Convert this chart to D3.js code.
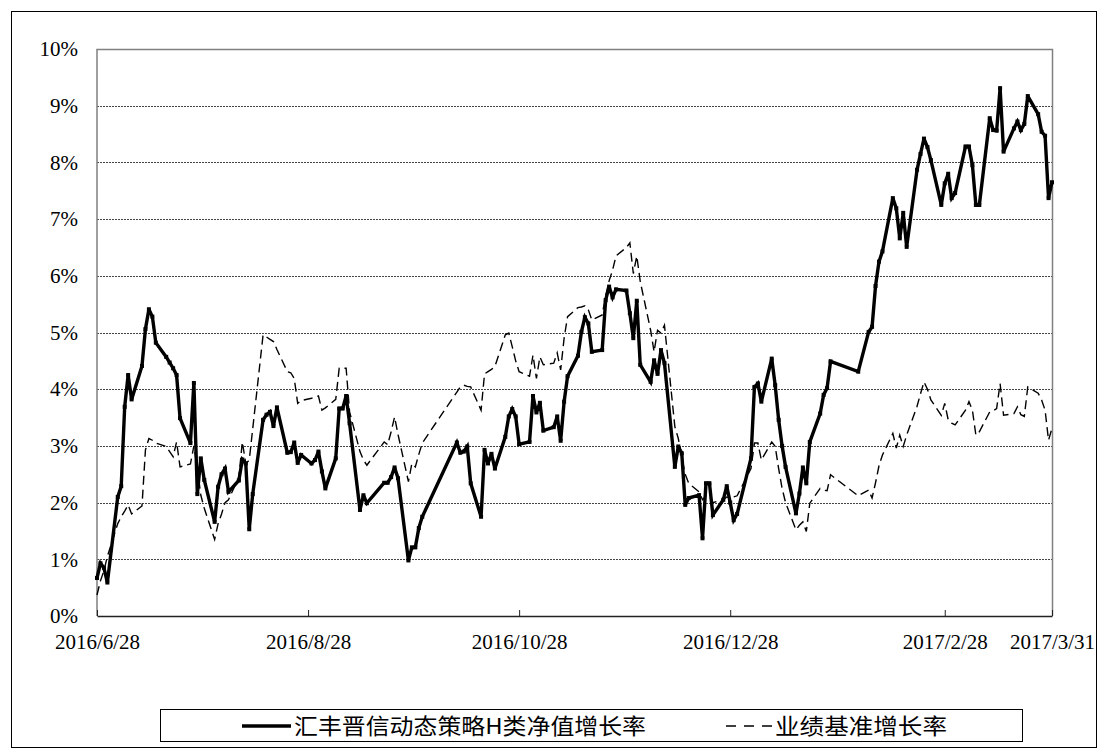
<!DOCTYPE html>
<html>
<head>
<meta charset="utf-8">
<script src="https://cdn.jsdelivr.net/npm/d3@7"></script>
<style>
  body { margin: 0; background: #fff; }
  .tick text { font-family: "Liberation Serif", "Times New Roman", serif; font-size: 21px; fill: #000; }
  .legend text { font-family: "Noto Sans CJK SC", sans-serif; font-size: 22px; fill: #000; }
</style>
</head>
<body>
<div id="chart"></div>
<script>
// trading days shown on the chart
var dates = [
  "2016-06-28","2016-06-29","2016-06-30",
  "2016-07-01","2016-07-04","2016-07-05","2016-07-06","2016-07-07","2016-07-08","2016-07-11","2016-07-12","2016-07-13","2016-07-14","2016-07-15","2016-07-18","2016-07-19","2016-07-20","2016-07-21","2016-07-22","2016-07-25","2016-07-26","2016-07-27","2016-07-28","2016-07-29",
  "2016-08-01","2016-08-02","2016-08-03","2016-08-04","2016-08-05","2016-08-08","2016-08-09","2016-08-10","2016-08-11","2016-08-12","2016-08-15","2016-08-16","2016-08-17","2016-08-18","2016-08-19","2016-08-22","2016-08-23","2016-08-24","2016-08-25","2016-08-26","2016-08-29","2016-08-30","2016-08-31",
  "2016-09-01","2016-09-02","2016-09-05","2016-09-06","2016-09-07","2016-09-08","2016-09-09","2016-09-12","2016-09-13","2016-09-14","2016-09-19","2016-09-20","2016-09-21","2016-09-22","2016-09-23","2016-09-26","2016-09-27","2016-09-28","2016-09-29","2016-09-30",
  "2016-10-10","2016-10-11","2016-10-12","2016-10-13","2016-10-14","2016-10-17","2016-10-18","2016-10-19","2016-10-20","2016-10-21","2016-10-24","2016-10-25","2016-10-26","2016-10-27","2016-10-28","2016-10-31",
  "2016-11-01","2016-11-02","2016-11-03","2016-11-04","2016-11-07","2016-11-08","2016-11-09","2016-11-10","2016-11-11","2016-11-14","2016-11-15","2016-11-16","2016-11-17","2016-11-18","2016-11-21","2016-11-22","2016-11-23","2016-11-24","2016-11-25","2016-11-28","2016-11-29","2016-11-30",
  "2016-12-01","2016-12-02","2016-12-05","2016-12-06","2016-12-07","2016-12-08","2016-12-09","2016-12-12","2016-12-13","2016-12-14","2016-12-15","2016-12-16","2016-12-19","2016-12-20","2016-12-21","2016-12-22","2016-12-23","2016-12-26","2016-12-27","2016-12-28","2016-12-29","2016-12-30",
  "2017-01-03","2017-01-04","2017-01-05","2017-01-06","2017-01-09","2017-01-10","2017-01-11","2017-01-12","2017-01-13","2017-01-16","2017-01-17","2017-01-18","2017-01-19","2017-01-20","2017-01-23","2017-01-24","2017-01-25","2017-01-26",
  "2017-02-03","2017-02-06","2017-02-07","2017-02-08","2017-02-09","2017-02-10","2017-02-13","2017-02-14","2017-02-15","2017-02-16","2017-02-17","2017-02-20","2017-02-21","2017-02-22","2017-02-23","2017-02-24","2017-02-27","2017-02-28",
  "2017-03-01","2017-03-02","2017-03-03","2017-03-06","2017-03-07","2017-03-08","2017-03-09","2017-03-10","2017-03-13","2017-03-14","2017-03-15","2017-03-16","2017-03-17","2017-03-20","2017-03-21","2017-03-22","2017-03-23","2017-03-24","2017-03-27","2017-03-28","2017-03-29","2017-03-30","2017-03-31"
];

// 汇丰晋信动态策略H类净值增长率 (%)
var fundGrowth = [
  0.67, 0.93, 0.85,
  0.59, 2.10, 2.29, 3.69, 4.25, 3.82, 4.41, 5.06, 5.41, 5.28, 4.82, 4.57, 4.47, 4.37, 4.25, 3.49, 3.05, 4.11, 2.15, 2.78, 2.40,
  1.66, 2.28, 2.50, 2.60, 2.19, 2.39, 2.76, 2.69, 1.53, 2.15, 3.46, 3.55, 3.60, 3.35, 3.68, 2.88, 2.89, 3.06, 2.70, 2.84, 2.69, 2.75, 2.90,
  2.55, 2.25, 2.78, 3.66, 3.66, 3.88, 3.40, 1.87, 2.13, 1.99, 2.35, 2.35, 2.45, 2.62, 2.43, 0.98, 1.21, 1.21, 1.55, 1.75,
  3.06, 2.88, 2.90, 2.99, 2.34, 1.75, 2.93, 2.69, 2.86, 2.60, 3.16, 3.52, 3.65, 3.52, 3.03, 3.07,
  3.88, 3.59, 3.76, 3.27, 3.33, 3.52, 3.09, 3.78, 4.23, 4.59, 5.01, 5.27, 5.16, 4.66, 4.69, 5.57, 5.81, 5.62, 5.76, 5.74, 5.34, 4.90,
  5.56, 4.43, 4.13, 4.51, 4.27, 4.69, 4.46, 2.63, 2.99, 2.87, 1.96, 2.08, 2.13, 1.37, 2.34, 2.34, 1.78, 2.05, 2.29, 2.00, 1.69, 1.80,
  2.78, 4.04, 4.10, 3.78, 4.54, 4.07, 3.46, 3.00, 2.63, 1.81, 2.16, 2.62, 2.34, 3.07, 3.57, 3.90, 4.02, 4.49,
  4.31, 5.01, 5.10, 5.82, 6.25, 6.43, 7.37, 7.19, 6.66, 7.11, 6.51, 7.87, 8.15, 8.42, 8.27, 8.04, 7.25, 7.63,
  7.80, 7.37, 7.46, 8.28, 8.28, 7.95, 7.25, 7.25, 8.78, 8.57, 8.56, 9.31, 8.19, 8.60, 8.72, 8.57, 8.68, 9.17, 8.85, 8.54, 8.47, 7.37, 7.65
];

// 业绩基准增长率 (%)
var benchmarkGrowth = [
  0.37, 0.62, 0.80,
  1.05, 1.63, 1.75, 1.85, 1.96, 1.80, 1.94, 2.93, 3.13, 3.10, 3.05, 2.99, 2.90, 2.81, 3.07, 2.63, 2.68, 3.00, 2.60, 2.13, 1.90,
  1.35, 1.63, 1.80, 2.00, 2.05, 2.45, 3.07, 2.69, 2.75, 3.30, 4.96, 4.92, 4.88, 4.84, 4.70, 4.31, 4.29, 4.19, 3.75, 3.80, 3.84, 3.86, 3.88,
  3.63, 3.67, 3.82, 4.37, 4.37, 4.37, 3.60, 2.90, 2.75, 2.66, 3.07, 3.02, 3.25, 3.51, 3.20, 2.37, 2.69, 2.63, 2.85, 3.05,
  3.95, 4.04, 4.07, 4.05, 4.04, 3.63, 4.27, 4.31, 4.35, 4.40, 4.96, 4.99, 4.75, 4.50, 4.31, 4.23,
  4.60, 4.19, 4.57, 4.43, 4.46, 4.64, 4.34, 4.90, 5.28, 5.44, 5.45, 5.47, 5.40, 5.22, 5.31, 5.65, 5.91, 6.10, 6.35, 6.50, 6.58, 6.04,
  6.35, 5.90, 5.04, 4.66, 5.04, 4.99, 5.13, 3.34, 3.13, 2.80, 2.50, 2.34, 2.19, 2.05, 2.12, 2.10, 2.00, 2.05, 2.10, 2.08, 2.10, 2.12,
  2.60, 3.05, 3.05, 2.75, 3.07, 2.99, 2.60, 2.25, 2.00, 1.52, 1.60, 1.66, 1.49, 1.99, 2.25, 2.22, 2.21, 2.49,
  2.12, 2.22, 2.08, 2.35, 2.65, 2.84, 3.22, 2.96, 3.19, 2.99, 3.19, 3.70, 3.92, 4.13, 4.00, 3.81, 3.54, 3.75,
  3.46, 3.40, 3.37, 3.63, 3.78, 3.63, 3.19, 3.25, 3.60, 3.62, 3.66, 4.10, 3.54, 3.57, 3.69, 3.55, 3.52, 4.04, 3.93, 3.81, 3.63, 3.10, 3.31
];

var xTickLabels = ["2016/6/28", "2016/8/28", "2016/10/28", "2016/12/28", "2017/2/28", "2017/3/31"];
var yTickValues = [0, 1, 2, 3, 4, 5, 6, 7, 8, 9, 10];
var seriesNames = ["汇丰晋信动态策略H类净值增长率", "业绩基准增长率"];

var svgWidth = 1107;
var svgHeight = 754;
var plot = { left: 97, right: 1052, top: 49, bottom: 616 };

var parseDate = d3.timeParse("%Y-%m-%d");
var parseTick = d3.timeParse("%Y/%m/%d");

var data = dates.map(function (d, i) {
    return { date: parseDate(d), fund: fundGrowth[i], bench: benchmarkGrowth[i] };
});

var svg = d3.select("#chart")
    .append("svg")
    .attr("width", svgWidth)
    .attr("height", svgHeight);

// outer frame
svg.append("rect")
    .attr("x", 11.5).attr("y", 11.5)
    .attr("width", 1085).attr("height", 736)
    .attr("fill", "none").attr("stroke", "#000").attr("stroke-width", 1);

var xScale = d3.scaleTime()
    .domain([parseTick(xTickLabels[0]), parseTick(xTickLabels[xTickLabels.length - 1])])
    .range([plot.left, plot.right]);

var yScale = d3.scaleLinear()
    .domain([0, 10])
    .range([plot.bottom, plot.top]);

// gridlines
svg.append("g")
    .selectAll("line")
    .data(yTickValues.slice(1, -1))
    .enter()
    .append("line")
    .attr("x1", plot.left).attr("x2", plot.right)
    .attr("y1", d => Math.round(yScale(d)) + 0.5)
    .attr("y2", d => Math.round(yScale(d)) + 0.5)
    .attr("stroke", "#444")
    .attr("stroke-width", 1)
    .attr("stroke-dasharray", "2,1");

// plot border (top / right / left in grey)
svg.append("path")
    .attr("d", `M${plot.left},${plot.bottom} V${plot.top + 0.5} H${plot.right + 0.5} V${plot.bottom}`)
    .attr("fill", "none")
    .attr("stroke", "#808080")
    .attr("stroke-width", 1.5);

// axes
var bottomAxis = d3.axisBottom(xScale)
    .tickValues(xTickLabels.map(parseTick))
    .tickFormat(d3.timeFormat("%Y/%-m/%-d"))
    .tickSizeInner(-6)
    .tickSizeOuter(0)
    .tickPadding(18);

var xAxis = svg.append("g")
    .attr("transform", `translate(0, ${plot.bottom})`)
    .call(bottomAxis);
xAxis.select(".domain").attr("stroke", "#222").attr("stroke-width", 1.5);
xAxis.selectAll(".tick line").attr("stroke", "#222");
xAxis.selectAll(".tick text").attr("dy", "0.71em");

var leftAxis = d3.axisLeft(yScale)
    .tickValues(yTickValues)
    .tickFormat(d => d + "%")
    .tickSize(0)
    .tickPadding(19);

var yAxis = svg.append("g")
    .attr("transform", `translate(${plot.left}, 0)`)
    .call(leftAxis);
yAxis.select(".domain").remove();

// lines
var fundLine = d3.line()
    .x(d => xScale(d.date))
    .y(d => yScale(d.fund));

var benchLine = d3.line()
    .x(d => xScale(d.date))
    .y(d => yScale(d.bench));

svg.append("path")
    .datum(data)
    .attr("d", benchLine)
    .attr("fill", "none")
    .attr("stroke", "#000")
    .attr("stroke-width", 1.4)
    .attr("stroke-dasharray", "9,5");

svg.append("path")
    .datum(data)
    .attr("d", fundLine)
    .attr("fill", "none")
    .attr("stroke", "#000")
    .attr("stroke-width", 3.4)
    .attr("stroke-linejoin", "miter")
    .attr("stroke-miterlimit", 3);

svg.append("g")
    .selectAll("rect")
    .data(data)
    .enter()
    .append("rect")
    .attr("x", d => xScale(d.date) - 2)
    .attr("y", d => yScale(d.fund) - 2)
    .attr("width", 4)
    .attr("height", 4)
    .attr("fill", "#000");

// legend
var legend = svg.append("g").attr("class", "legend");

legend.append("rect")
    .attr("x", 160.5).attr("y", 709.5)
    .attr("width", 862).attr("height", 32)
    .attr("fill", "none").attr("stroke", "#000").attr("stroke-width", 1);

legend.append("line")
    .attr("x1", 242).attr("x2", 291)
    .attr("y1", 726).attr("y2", 726)
    .attr("stroke", "#000").attr("stroke-width", 3.4);

legend.append("text")
    .attr("x", 294).attr("y", 734)
    .attr("textLength", 352)
    .attr("lengthAdjust", "spacingAndGlyphs")
    .text(seriesNames[0]);

legend.append("line")
    .attr("x1", 726).attr("x2", 772)
    .attr("y1", 726).attr("y2", 726)
    .attr("stroke", "#000").attr("stroke-width", 1.5)
    .attr("stroke-dasharray", "10,8");

legend.append("text")
    .attr("x", 775).attr("y", 734)
    .attr("textLength", 172)
    .attr("lengthAdjust", "spacingAndGlyphs")
    .text(seriesNames[1]);
</script>
</body>
</html>
